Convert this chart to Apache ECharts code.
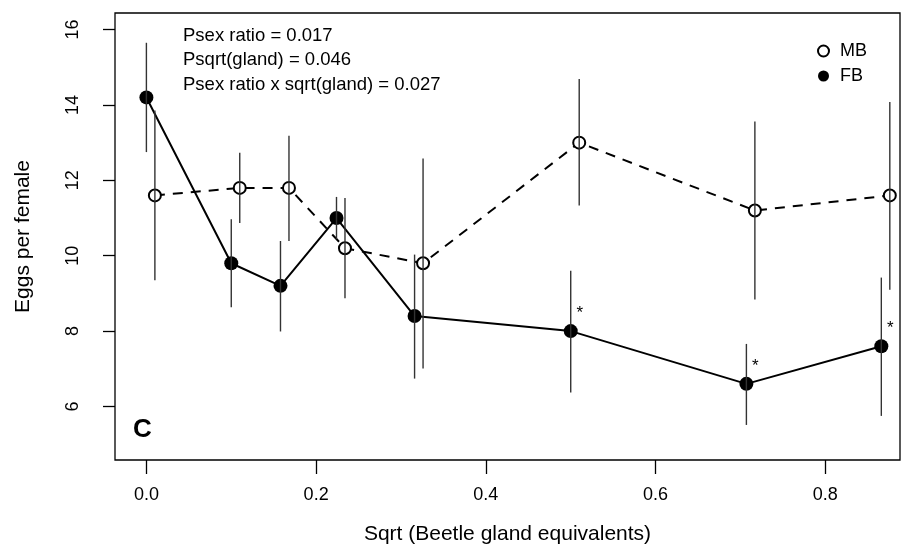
<!DOCTYPE html>
<html lang="en">
<head>
  <meta charset="UTF-8">
  <title>Eggs per female</title>
  <script src="https://cdn.jsdelivr.net/npm/echarts@6/dist/echarts.min.js"></script>
</head>
<body>
<div id="chart"></div>
<style>
  html, body {
    margin: 0;
    width: 100%;
    height: 100%;
    background: #fff;
  }
  #chart {
    width: 904px;
    height: 554px;
  }
</style>
<script>
  // sqrt(gland equivalents); MB is drawn a little to the right of FB
  const xFB = [0, 0.1, 0.158, 0.224, 0.316, 0.5, 0.707, 0.866];
  const xMB = [0.01, 0.11, 0.168, 0.234, 0.326, 0.51, 0.717, 0.876];

  const fbMean = [14.2, 9.8, 9.2, 11.0, 8.4, 8.0, 6.6, 7.6];
  const fbLo = [12.75, 8.63, 7.99, 10.44, 6.74, 6.37, 5.51, 5.75];
  const fbHi = [15.65, 10.97, 10.39, 11.56, 10.03, 9.6, 7.66, 9.42];
  const fbSig = ['', '', '', '', '', '*', '*', '*'];

  const mbMean = [11.6, 11.8, 11.8, 10.2, 9.8, 13.0, 11.2, 11.6];
  const mbLo = [9.35, 10.87, 10.39, 8.87, 7.01, 11.33, 8.84, 9.10];
  const mbHi = [13.85, 12.73, 13.18, 11.53, 12.58, 14.69, 13.56, 14.08];

  const xTicks = [0, 0.2, 0.4, 0.6, 0.8];
  const yTicks = [6, 8, 10, 12, 14, 16];

  const pLines = [
    'Psex ratio = 0.017',
    'Psqrt(gland) = 0.046',
    'Psex ratio x sqrt(gland) = 0.027'
  ];

  const font = 'Liberation Sans, Arial, Helvetica, sans-serif';

  function errBars(xs, lo, hi) {
    return {
      type: 'custom',
      silent: true,
      z: 3,
      data: xs.map((x, i) => [x, lo[i], hi[i]]),
      encode: {x: 0, y: [1, 2]},
      renderItem: function (params, api) {
        const a = api.coord([api.value(0), api.value(1)]);
        const b = api.coord([api.value(0), api.value(2)]);
        return {
          type: 'line',
          shape: {x1: a[0], y1: a[1], x2: b[0], y2: b[1]},
          style: {stroke: '#333', lineWidth: 1.4}
        };
      }
    };
  }

  const chart = echarts.init(document.getElementById('chart'), null, {renderer: 'canvas'});
  chart.setOption({
    animation: false,
    backgroundColor: '#fff',
    textStyle: {fontFamily: font, color: '#000'},
    grid: {
      left: 115, right: 4, top: 13, bottom: 94,
      show: true, borderColor: '#000', borderWidth: 1.3,
      outerBoundsMode: 'none'
    },
    legend: {
      orient: 'vertical',
      left: 812, top: 37,
      itemWidth: 11, itemHeight: 11, itemGap: 7,
      textStyle: {fontSize: 18, color: '#000', fontFamily: font, padding: [0, 0, 0, 6]},
      data: [
        {name: 'MB', icon: 'emptyCircle', itemStyle: {color: '#000', borderColor: '#000', borderWidth: 1.3}},
        {name: 'FB', icon: 'circle', itemStyle: {color: '#000', borderWidth: 0}}
      ]
    },
    xAxis: {
      type: 'value',
      min: -0.037, max: 0.888,
      name: 'Sqrt (Beetle gland equivalents)',
      nameLocation: 'middle', nameGap: 64,
      nameTextStyle: {fontSize: 21, color: '#000', fontFamily: font},
      axisLine: {show: false, onZero: false},
      axisTick: {show: true, length: 14, customValues: xTicks, lineStyle: {color: '#000', width: 1.3}},
      axisLabel: {customValues: xTicks, fontSize: 18, color: '#000', margin: 26,
        formatter: v => v.toFixed(1)},
      splitLine: {show: false}
    },
    yAxis: {
      type: 'value',
      min: 4.58, max: 16.44,
      name: 'Eggs per female',
      nameLocation: 'middle', nameGap: 81, nameRotate: 90,
      nameTextStyle: {fontSize: 21, color: '#000', fontFamily: font},
      axisLine: {show: false, onZero: false},
      axisTick: {show: true, length: 12, customValues: yTicks, lineStyle: {color: '#000', width: 1.3}},
      axisLabel: {customValues: yTicks, fontSize: 18, color: '#000', margin: 33, rotate: 90},
      splitLine: {show: false}
    },
    series: [
      {
        name: 'MB',
        type: 'line',
        data: xMB.map((x, i) => [x, mbMean[i]]),
        symbol: 'circle', symbolSize: 12,
        itemStyle: {color: '#fff', borderColor: '#000', borderWidth: 2},
        lineStyle: {color: '#000', width: 2, type: [10, 8]},
        z: 2
      },
      {
        name: 'FB',
        type: 'line',
        data: xFB.map((x, i) => [x, fbMean[i]]),
        symbol: 'circle', symbolSize: 14,
        itemStyle: {color: '#000'},
        lineStyle: {color: '#000', width: 2},
        label: {
          show: true, position: 'top', distance: 2, offset: [9, 0],
          fontSize: 17, color: '#000', fontFamily: font,
          formatter: p => fbSig[p.dataIndex]
        },
        z: 2
      },
      errBars(xMB, mbLo, mbHi),
      errBars(xFB, fbLo, fbHi)
    ],
    graphic: [
      ...pLines.map((t, i) => ({
        type: 'text', left: 183, top: 26 + i * 24.5, silent: true,
        style: {text: t, fontSize: 18.5, fill: '#000', fontFamily: font}
      })),
      {
        type: 'text', left: 133, top: 417, silent: true,
        style: {text: 'C', fontSize: 26, fontWeight: 'bold', fill: '#000', fontFamily: font}
      }
    ]
  });
</script>
</body>
</html>
